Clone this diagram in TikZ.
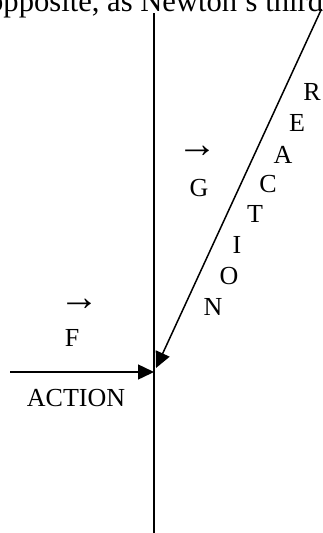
\documentclass[tikz,border=0pt]{standalone}
\usepackage{fontspec}
\setmainfont{Liberation Serif}
\usetikzlibrary{arrows.meta}
\begin{document}
\begin{tikzpicture}[x=1pt,y=-1pt,
  lbl/.style={inner sep=0pt,font=\fontsize{26}{26}\selectfont},
  vec/.style={inner sep=0pt,font=\fontsize{40}{40}\selectfont\bfseries},
  ln/.style={line width=1.5pt},
  arr/.style={ln,-{Triangle[length=16pt,width=15pt]}}]
\useasboundingbox (0,0) rectangle (322,533);
\clip (0,0) rectangle (322,533);
\node[anchor=base west,inner sep=0pt,font=\fontsize{30.6}{30.6}\selectfont] (top) at (-12,11) {opposite, as Newton’s third};
\coordinate (vtop) at (154,13);
\coordinate (vbot) at (154,533);
\draw[ln] (vtop) -- (vbot);
\coordinate (hstart) at (10,372);
\coordinate (hit) at (154,372);
\draw[arr] (hstart) -- (hit);
\coordinate (dtop) at (321.5,9);
\coordinate (dtip) at (156,368);
\draw[arr] (dtop) -- (dtip);
\node[lbl] (R) at (312,92) {R};
\node[lbl] (E) at (297,123) {E};
\node[lbl] (A) at (283,155) {A};
\node[lbl] (C) at (268,184) {C};
\node[lbl] (T) at (255,214) {T};
\node[lbl] (I) at (237,245) {I};
\node[lbl] (O) at (229,276) {O};
\node[lbl] (N) at (213,307) {N};
\node[vec] (garr) at (197,152) {→};
\node[lbl] (G) at (199,188) {G};
\node[vec] (farr) at (79,305) {→};
\node[lbl] (F) at (72,338) {F};
\node[lbl] (act) at (76,398) {ACTION};
\end{tikzpicture}
\end{document}
